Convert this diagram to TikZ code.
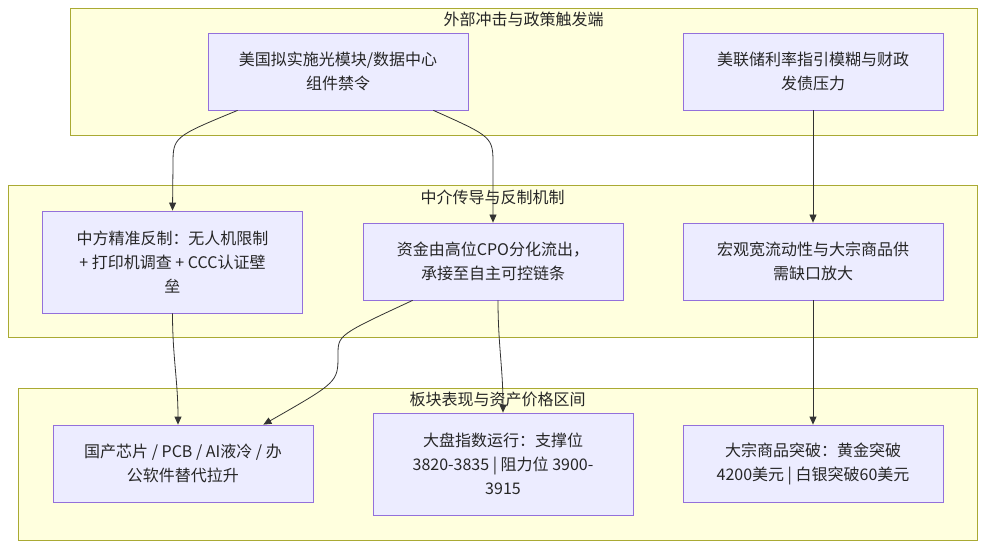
\documentclass[tikz,border=0pt]{standalone}
\usepackage{fontspec}
\setmainfont{Noto Sans CJK SC}
\usetikzlibrary{arrows.meta}
\definecolor{grpfill}{HTML}{FFFFDE}
\definecolor{grpline}{HTML}{AAAA33}
\definecolor{boxfill}{HTML}{ECECFF}
\definecolor{boxline}{HTML}{9370DB}
\definecolor{edgeline}{HTML}{333333}

\begin{document}
\begin{tikzpicture}[x=1pt, y=-1pt,
    grp/.style={draw=grpline, fill=grpfill, line width=0.8pt},
    grplabel/.style={font=\fontsize{16}{20}\selectfont, text=black!85, inner sep=0pt},
    box/.style={draw=boxline, fill=boxfill, line width=0.8pt, minimum width=260pt,
        minimum height=77pt, align=center, inner sep=0pt,
        font=\fontsize{16}{24}\selectfont, text=black!85},
    flow/.style={draw=edgeline, line width=0.8pt, -{Triangle[length=8pt,width=7pt]}}]
    \useasboundingbox (0,0) rectangle (986,548);

    % the three layers
    \draw[grp] (70,8) rectangle (977,135);
    \node[grplabel] (shock) at (523.5,19) {外部冲击与政策触发端};
    \draw[grp] (8,185) rectangle (977,337);
    \node[grplabel] (transmit) at (492.5,197) {中介传导与反制机制};
    \draw[grp] (18,388) rectangle (977,540);
    \node[grplabel] (market) at (497.5,399) {板块表现与资产价格区间};

    \node[box] (ban) at (338,71.5) {美国拟实施光模块/数据中心\\组件禁令};
    \node[box] (fed) at (813,71.5) {美联储利率指引模糊与财政\\发债压力};

    \node[box, minimum height=102pt] (counter) at (172.5,262) {中方精准反制：无人机限制\\+ 打印机调查 + CCC认证壁\\垒};
    \node[box] (capital) at (493,261.5) {资金由高位CPO分化流出，\\承接至自主可控链条};
    \node[box] (liquid) at (813,261.5) {宏观宽流动性与大宗商品供\\需缺口放大};

    \node[box] (chips) at (183,463.5) {国产芯片 / PCB / AI液冷 / 办\\公软件替代拉升};
    \node[box, minimum height=102pt] (index) at (503,464) {大盘指数运行：支撑位\\3820-3835 | 阻力位 3900-\\3915};
    \node[box] (commod) at (813,463.5) {大宗商品突破：黄金突破\\4200美元 | 白银突破60美元};

    % connectors
    \draw[flow] ([xshift=30pt]ban.south west) .. controls (173,137) .. (173,165) -- (counter.north);
    \draw[flow] ([xshift=-35pt]ban.south east) .. controls (493,137) .. (493,165) -- (capital.north);
    \draw[flow] (fed) -- (liquid);
    \draw[flow] (counter.south) to[out=-90, in=90] ([xshift=-5pt]chips.north);
    \draw[flow] ([xshift=50pt]capital.south west) .. controls (338,335) .. (338,355)
        .. controls (338,382) .. ([xshift=-50pt]chips.north east);
    \draw[flow] ([xshift=5pt]capital.south) to[out=-90, in=90] (index.north);
    \draw[flow] (liquid) -- (commod);
\end{tikzpicture}
\end{document}
